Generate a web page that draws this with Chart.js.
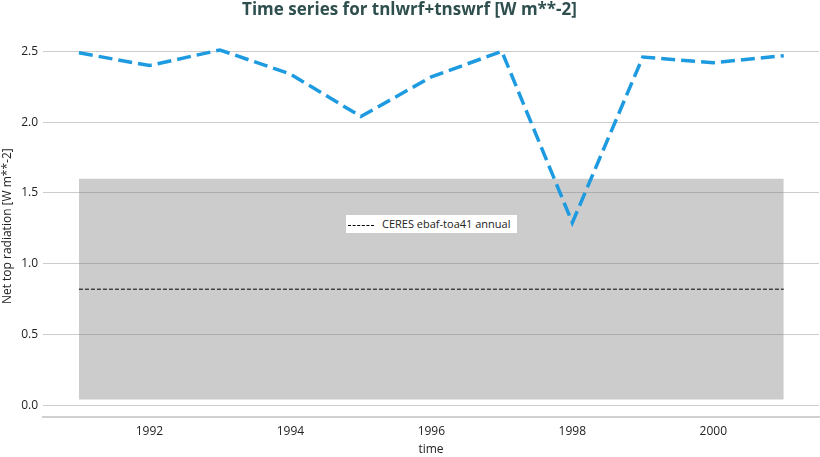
<!DOCTYPE html>
<html>
<head>
<meta charset="utf-8">
<script src="https://cdn.jsdelivr.net/npm/chart.js@4"></script>
<style>
  body{margin:0;background:#fff;}
  #wrap{position:relative;width:820px;height:457px;}
  #legendBox{position:absolute;left:346px;top:215px;width:171px;height:18px;background:#fff;
    font-family:"Open Sans",sans-serif;font-size:11px;color:#222;line-height:18px;white-space:nowrap;}
  #legendBox .ln{display:inline-block;width:26px;height:0;border-top:1px dashed #000;vertical-align:middle;margin:0 8px 0 2px;}
</style>
</head>
<body>
<div id="wrap">
  <canvas id="c" width="820" height="457"></canvas>
  <div id="legendBox"><span class="ln"></span>CERES ebaf-toa41 annual</div>
</div>
<script>
const years = [1991,1992,1993,1994,1995,1996,1997,1998,1999,2000,2001];
const netTop = [2.49,2.40,2.51,2.34,2.04,2.32,2.50,1.29,2.46,2.42,2.47];
const ceresYears = [1991,2001];
const ceresMean = [0.82,0.82];
const ceresLow = [0.04,0.04];
const ceresHigh = [1.6,1.6];
const xTicks = [1992,1994,1996,1998,2000];
const yTicks = [0,0.5,1.0,1.5,2.0,2.5];

const pts = (xs, ys) => xs.map((x,i)=>({x, y:ys[i]}));
const font = "'Open Sans', sans-serif";

new Chart(document.getElementById("c"), {
  type:'line',
  data:{
    datasets:[
      {label:'low', data:pts(ceresYears,ceresLow), borderWidth:0, pointRadius:0, fill:false, order:5},
      {label:'high', data:pts(ceresYears,ceresHigh), borderWidth:0, pointRadius:0,
        fill:'-1', backgroundColor:'rgba(128,128,128,0.4)', order:4},
      {label:'CERES ebaf-toa41 annual', data:pts(ceresYears,ceresMean), borderColor:'#000',
        borderWidth:1, borderDash:[4,2], pointRadius:0, fill:false, order:2},
      {label:'tnlwrf+tnswrf', data:pts(years,netTop), borderColor:'#1e9be0',
        borderWidth:3.5, borderDash:[14,6], pointRadius:0, fill:false, tension:0, order:1}
    ]
  },
  options:{
    responsive:false, animation:false,
    layout:{padding:{left:0,right:1,top:0,bottom:0}},
    plugins:{
      legend:{display:false},
      tooltip:{enabled:false},
      title:{display:true, text:'Time series for tnlwrf+tnswrf [W m**-2]', color:'#2f4f4f',
        font:{family:font, size:17, weight:'bold', lineHeight:1.2}, padding:{top:0,bottom:15}}
    },
    scales:{
      x:{type:'linear', min:1990.49, max:2001.50,
        afterBuildTicks:ax=>{ax.ticks = xTicks.map(v=>({value:v}));},
        afterFit:ax=>{ax.height = 40;},
        ticks:{color:'#222', font:{family:font,size:12}, padding:2, callback:v=>String(v)},
        grid:{display:false, drawTicks:true, tickLength:5, tickColor:'#555'},
        border:{display:true, color:'#d0d0d0', width:2},
        title:{display:true, text:'time', color:'#222', font:{family:font,size:12}, padding:{top:0,bottom:0}}
      },
      y:{min:-0.083, max:2.613,
        afterBuildTicks:ax=>{ax.ticks = yTicks.map(v=>({value:v}));},
        afterFit:ax=>{ax.width = 43;},
        ticks:{color:'#222', font:{family:font,size:12}, padding:5, callback:v=>v.toFixed(1)},
        grid:{color:'#cccccc', lineWidth:1, drawTicks:false},
        border:{display:false},
        title:{display:true, text:'Net top radiation [W m**-2]', color:'#222', font:{family:font,size:12}, padding:{top:0,bottom:0}}
      }
    }
  }
});
</script>
</body>
</html>
